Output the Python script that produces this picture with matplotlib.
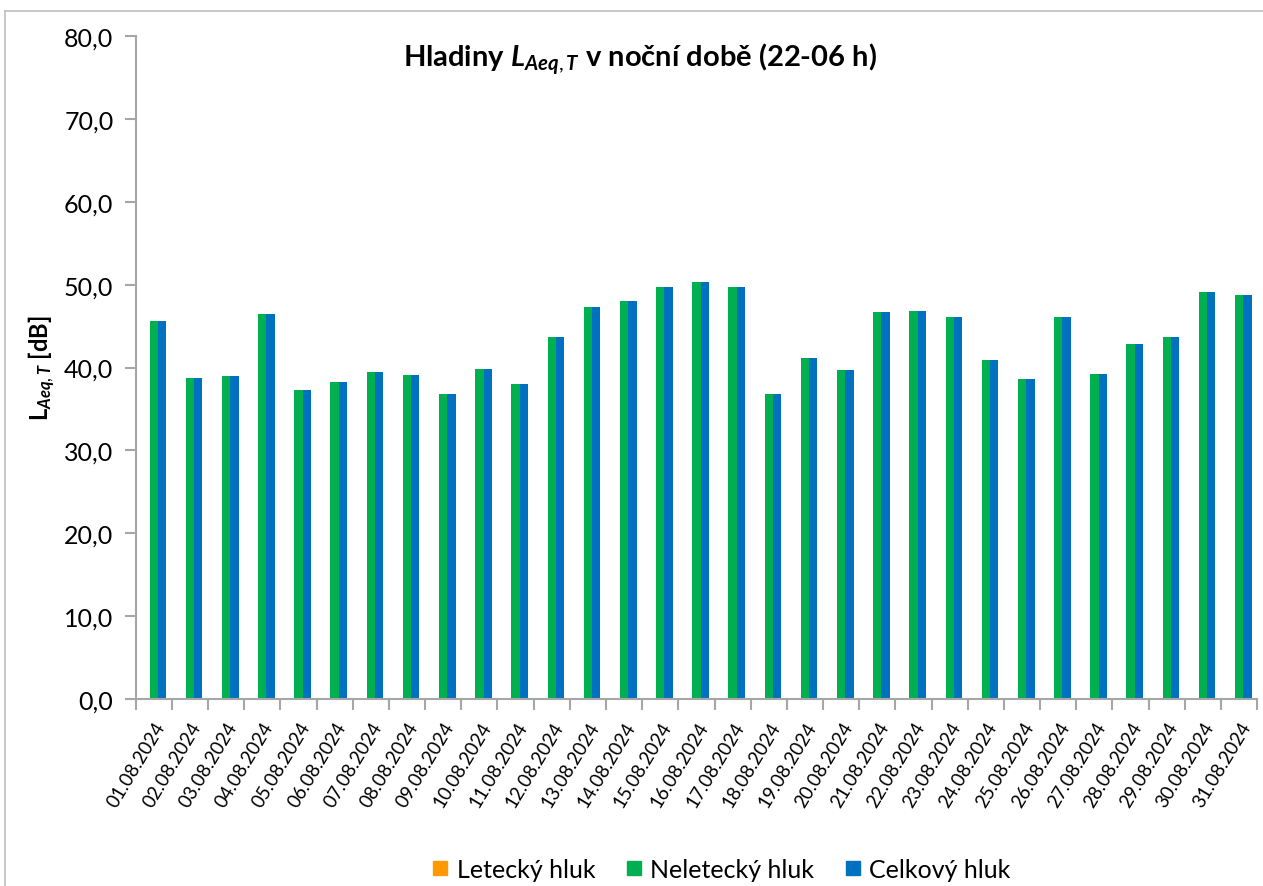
import matplotlib
matplotlib.use("Agg")
import matplotlib.pyplot as plt
import numpy as np
from matplotlib.lines import Line2D

plt.rcParams["font.family"] = ["Lato", "DejaVu Sans"]
plt.rcParams["mathtext.fontset"] = "custom"
plt.rcParams["mathtext.rm"] = "Lato"
plt.rcParams["mathtext.bf"] = "Lato:bold"
plt.rcParams["mathtext.it"] = "Lato:bold:italic"

dates = [
    "01.08.2024", "02.08.2024", "03.08.2024", "04.08.2024", "05.08.2024",
    "06.08.2024", "07.08.2024", "08.08.2024", "09.08.2024", "10.08.2024",
    "11.08.2024", "12.08.2024", "13.08.2024", "14.08.2024", "15.08.2024",
    "16.08.2024", "17.08.2024", "18.08.2024", "19.08.2024", "20.08.2024",
    "21.08.2024", "22.08.2024", "23.08.2024", "24.08.2024", "25.08.2024",
    "26.08.2024", "27.08.2024", "28.08.2024", "29.08.2024", "30.08.2024",
    "31.08.2024",
]
letecky = [
    0.0, 0.0, 0.0, 0.0, 0.0, 0.0, 0.0, 0.0, 0.0, 0.0, 0.0, 0.0, 0.0, 0.0, 0.0, 0.0,
    0.0, 0.0, 0.0, 0.0, 0.0, 0.0, 0.0, 0.0, 0.0, 0.0, 0.0, 0.0, 0.0, 0.0, 0.0,
]
neletecky = [
    45.6, 38.7, 39.0, 46.4, 37.3, 38.2, 39.4, 39.1, 36.8, 39.8, 38.0, 43.7,
    47.3, 48.0, 49.7, 50.3, 49.7, 36.8, 41.1, 39.7, 46.7, 46.8, 46.1, 40.9,
    38.6, 46.1, 39.2, 42.8, 43.7, 49.1, 48.7,
]
celkovy = list(neletecky)

C_ORANGE = "#FF9900"
C_GREEN = "#00B050"
C_BLUE = "#0070C0"
AXIS_GRAY = "#A6A6A6"

fig = plt.figure(figsize=(12.63, 8.87), dpi=100)
ax = fig.add_axes([0.1074, 0.2108, 0.888, 0.7475])

x = np.arange(len(dates))
w = 0.23
ax.bar(x - w, letecky, w, color=C_ORANGE, label="Letecký hluk")
ax.bar(x, neletecky, w, color=C_GREEN, label="Neletecký hluk")
ax.bar(x + w, celkovy, w, color=C_BLUE, label="Celkový hluk")

ax.set_xlim(-0.5, len(dates) - 0.5)
ax.set_ylim(0, 80)
ax.set_yticks(np.arange(0, 81, 10))
ax.set_yticklabels([f"{v:.1f}".replace(".", ",") for v in np.arange(0, 81, 10)],
                   fontsize=18)

ax.set_xticks(x)
ax.set_xticklabels(dates, rotation=59, ha="right", rotation_mode="anchor",
                   fontsize=13.5)
ax.set_xticks(np.arange(-0.5, len(dates)), minor=True)
ax.tick_params(axis="x", which="major", length=0, pad=14)
ax.tick_params(axis="x", which="minor", length=8, color=AXIS_GRAY, width=1.5)
ax.tick_params(axis="y", length=8, color=AXIS_GRAY, width=1.5, pad=8)

for side in ["top", "right"]:
    ax.spines[side].set_visible(False)
for side in ["left", "bottom"]:
    ax.spines[side].set_color(AXIS_GRAY)
    ax.spines[side].set_linewidth(1.5)

ax.set_ylabel(r"$\mathbf{L}_{Aeq,T}$ [dB]", fontsize=17, fontweight="bold",
              labelpad=4)

fig.text(0.507, 0.933, r"Hladiny $L_{Aeq,T}$ v noční době (22-06 h)",
         ha="center", va="center", fontsize=21, fontweight="bold")

handles = [
    Line2D([], [], marker="s", linestyle="none", markersize=10,
           markerfacecolor=c, markeredgecolor=c)
    for c in (C_ORANGE, C_GREEN, C_BLUE)
]
fig.legend(handles, ["Letecký hluk", "Neletecký hluk", "Celkový hluk"],
           loc="center", bbox_to_anchor=(0.571, 0.019), ncol=3, frameon=False,
           fontsize=18, handlelength=0.7, handletextpad=0.3, columnspacing=1.2)

# outer chart frame
fig.add_artist(Line2D([0.004, 0.004], [0.0, 0.9865], color="#BFBFBF", lw=1.2,
                      transform=fig.transFigure))
fig.add_artist(Line2D([0.004, 1.0], [0.9865, 0.9865], color="#BFBFBF", lw=1.2,
                      transform=fig.transFigure))

fig.savefig("out.png", dpi=100)
